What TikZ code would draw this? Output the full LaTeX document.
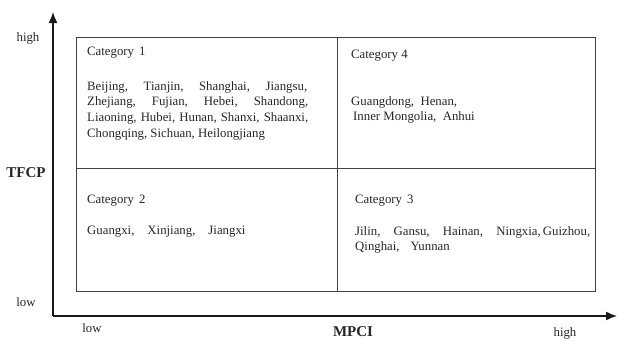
\documentclass[tikz,border=0pt]{standalone}
\usepackage{fontspec}
\setmainfont{Liberation Serif}
\usetikzlibrary{arrows.meta}
\tikzset{
  txt/.style={anchor=base west, inner sep=0pt, font=\fontsize{12.8}{15}\selectfont, text=black!85},
  lbl/.style={anchor=center, inner sep=0pt, font=\fontsize{12.8}{15}\selectfont, text=black!85},
  axlbl/.style={anchor=center, inner sep=0pt, font=\fontsize{15}{17}\selectfont\bfseries, text=black!85},
  cell/.style={draw=black!75, line width=0.8pt},
  axis/.style={draw=black!90, line width=1.5pt, -{Latex[length=11pt,width=9pt]}}
}
\begin{document}
\begin{tikzpicture}[x=1pt,y=-1pt]
\useasboundingbox (0,0) rectangle (617,340);
% axes
\coordinate (O) at (53,316);
\coordinate (ytip) at (53,12);
\coordinate (xtip) at (617,316);
\draw[axis] (O) -- (ytip);
\draw[axis] (O) -- (xtip);
% grid
\coordinate (tl) at (76,37);
\coordinate (br) at (595,291);
\coordinate (mt) at (337,37);
\coordinate (mb) at (337,291);
\coordinate (ml) at (76,168);
\coordinate (mr) at (595,168);
\draw[cell] (tl) rectangle (br);
\draw[cell] (mt) -- (mb);
\draw[cell] (ml) -- (mr);
% axis labels
\node[lbl] (yhigh) at (28,38) {high};
\node[axlbl] (tfcp) at (26,173) {TFCP};
\node[lbl] (ylow) at (26,302) {low};
\node[lbl] (xlow) at (92,328) {low};
\node[axlbl] (mpci) at (353,332) {MPCI};
\node[lbl] (xhigh) at (565,333) {high};
% Category 1
\node[txt] (c1) at (87,55.5) {Category\hspace{5pt}1};
\node[txt] (c1a) at (87,90.5) {\makebox[220pt][s]{Beijing, Tianjin, Shanghai, Jiangsu,}};
\node[txt] (c1b) at (87,105.5) {\makebox[221pt][s]{Zhejiang, Fujian, Hebei, Shandong,}};
\node[txt] (c1c) at (87,121.5) {\makebox[221pt][s]{Liaoning, Hubei, Hunan, Shanxi, Shaanxi,}};
\node[txt] (c1d) at (87,137) {Chongqing, Sichuan, Heilongjiang};
% Category 4
\node[txt] (c4) at (351,58.5) {Category 4};
\node[txt] (c4a) at (351,105.5) {Guangdong,\ \ Henan,};
\node[txt] (c4b) at (353,120.5) {Inner Mongolia,\ \ Anhui};
% Category 2
\node[txt] (c2) at (87,203.5) {Category\hspace{5pt}2};
\node[txt] (c2a) at (87,234.5) {Guangxi,\hspace{13pt}Xinjiang,\hspace{13pt}Jiangxi};
% Category 3
\node[txt] (c3) at (355,203.5) {Category\hspace{5pt}3};
\node[txt] (c3a) at (355,235.5) {\makebox[235pt][s]{Jilin, Gansu, Hainan, Ningxia,\,Guizhou,}};
\node[txt] (c3b) at (355,250.5) {Qinghai,\hspace{11pt}Yunnan};
\end{tikzpicture}
\end{document}
